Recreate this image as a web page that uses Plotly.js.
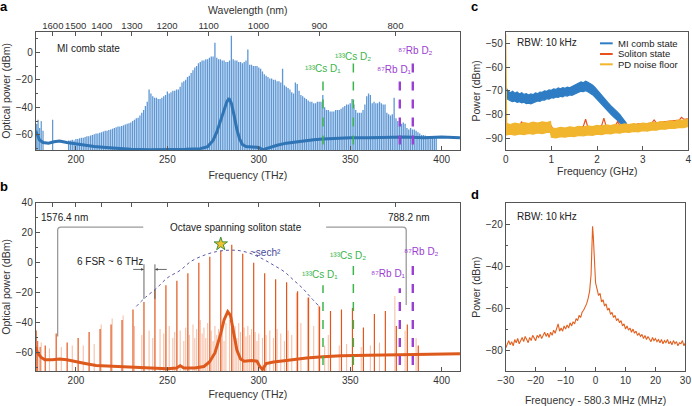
<!DOCTYPE html>
<html>
<head>
<meta charset="utf-8">
<script src="https://cdn.plot.ly/plotly-3.0.1.min.js"></script>
<style>
html,body{margin:0;padding:0;background:#fff;}
#chart{width:692px;height:406px;}
</style>
</head>
<body>
<div id="chart"></div>
<script>
// ---------------- DATA ----------------
const C_NM_THZ = 299792.458;               // nm*THz
const wavelengthTicks = [1600, 1500, 1400, 1300, 1200, 1100, 1000, 900, 800];

// Panel a: MI comb state (comb lines at 1 THz FSR starting 196 THz)
const aCombStart = 196, aCombFSR = 1;
const aCombPow = [
  -64, -64, -63.5, -64,
  -63, -63, -62.5, -62, -62, -61.5, -61, -61, -60.5, -60,
  -59.5, -59, -59, -58.5, -58, -57.5, -57, -57, -56.5, -56,
  -55.5, -55, -54.5, -54, -54, -53.5, -53, -52.5, -52, -51.5,
  -51, -50, -49, -48, -47.5, -46, -44, -42, -39, -36,
  -27, -30, -32, -33, -33, -34, -34, -33, -32, -31,
  -28.5, -30, -29, -28, -28, -27, -27, -25, -22, -21,
  -20, -18, -17, -15, -13, -11, -10, -8, -7, -6,
  -6, -5, -5, -4, -3, -3, 7, -4, -5, -5,
  -6, -6, -7, -7, -6, 12, -5, -6, -6, -7,
  -7, -8, -7, -6, 2, -9, -9, -10, -10, -10,
  -11, -12, -14, -16, -17, -18, -19, -19, -20, -20,
  -21, -21, -22, -12, -24, -25, -26, -27, -29, -30,
  -22, -23, -28, -31, -32, -33, -34, -35, -36, -36,
  -37, -37, -36, -36, -36, -31, -40, -42, -42, -43,
  -43, -43, -42, -42, -42, -41, -40, -39, -38, -38,
  -37, -34, -38, -42, -44, -44, -44, -42, -38, -32,
  -30, -31, -37, -36, -37, -37, -36, -37, -38, -38,
  -44, -45, -46, -45, -33, -48, -50, -52, -52, -51,
  -52, -55, -56, -55, -56, -56, -57, -58, -59, -60,
  -60, -60.5, -61, -61, -61.5, -61, -61.5, -62
];
const aSpikeF = [178.6, 179.3, 180.2, 181.0, 182.0, 187.3];
const aSpikeP = [-52, -49, -55, -50, -57, -49];
const aFloorF = [178, 179, 180, 182, 185, 188, 191, 195, 200, 205, 210, 220, 230, 240, 250, 260, 268, 272, 275, 277, 279, 281, 282.5, 283.7, 285, 286.5, 288, 289.5, 291, 293, 296, 299, 300.5, 302, 304, 307, 310, 315, 320, 325, 330, 335, 340, 350, 360, 370, 380, 390, 400, 410];
const aFloorP = [-57, -61, -63.5, -65.5, -66, -65, -64.5, -65.5, -66.5, -67.5, -68.5, -69.5, -70.5, -70.8, -70.8, -70.5, -70, -68.5, -64, -58, -50, -42, -36, -33.5, -37, -46, -56, -63, -67, -68.5, -68.5, -69, -69.5, -71, -70, -68.5, -67.5, -66, -65, -64, -63.5, -63, -62.5, -62, -62, -61.5, -61.5, -62, -61.5, -62];

// Panel b: soliton state
const bSolF = [183.2, 189.2, 195.2, 201.2, 207.2, 213.2, 219.2, 225.2, 231.2, 237.2, 243.2, 249.2, 255.2, 261.2, 267.2, 273.2, 279.2, 285.2, 291.2, 297.2, 303.2, 309.2, 315.2, 321.2, 327.2, 333.2, 339.2, 345.2, 351.2, 357.2, 363.2, 369.2, 375.2, 381.2, 387.2];
const bSolP = [-55, -47, -53, -50, -46, -44, -41, -38, -31, -26, -18, -15, -12, -7, 0, 4, 8, 12, 6, 0, -7, -11, -13, -19, -23, -29, -32, -31, -30, -43, -34, -32, -42, -41, -55];
const bLightF = [181, 185.5, 192, 198, 204, 210, 213.8, 219.8, 225.8, 232, 236, 240, 242, 246, 248, 251, 253, 254, 257, 259, 260, 262, 264, 265, 266, 268, 269, 270, 271, 272, 274, 275, 276, 277, 278, 280, 281, 282, 284, 286, 287, 288, 289, 290, 292, 293, 294, 295, 296, 298, 299, 300, 302, 304, 306, 308, 310, 312, 314, 316, 318, 320.6, 323, 326.6, 330, 332.6, 336, 338, 344, 348, 356, 361, 366, 374.4, 380, 386];
const bLightP = [-53, -57, -56, -55, -55, -54, -41, -37, -35, -42, -48, -45, -50, -44, -47, -42, -50, -46, -45, -52, -43, -48, -41, -50, -44, -38, -47, -43, -50, -40, -45, -52, -42, -48, -44, -46, -52, -40, -38, -45, -42, -50, -40, -46, -43, -49, -42, -48, -44, -46, -52, -47, -50, -48, -45, -50, -44, -47, -52, -45, -48, -20, -40, -23, -42, -28, -55, -48, -55, -54, -56, -55, -53, -22, -45, -50];
const bSpikeF = [178.3, 179.1, 180.4];
const bSpikeP = [-45, -52, -56];
const bFloorF = [178, 179, 181, 183, 187, 191, 195, 200, 205, 211, 220, 230, 240, 250, 255, 257, 259, 265, 270, 273, 276, 279, 281, 283, 284.5, 286, 288, 290, 292, 296, 299, 300.5, 302, 304, 308, 315, 326, 335, 345, 360, 381, 395, 410];
const bFloorP = [-56, -60, -63, -64.5, -64.5, -64, -64.5, -66, -67, -68.4, -69, -69.5, -70, -70.5, -70, -68.5, -70, -70, -69, -66, -60, -48, -38, -32.5, -35, -45, -58, -64, -65.5, -65, -65.5, -69, -71, -67, -66, -65, -63.3, -62.5, -61.8, -61.5, -61, -61, -60.5];
const bEnvF = [233, 238, 244, 250, 257, 263, 270, 277, 284, 290, 297, 303, 308, 314, 319, 324, 328, 333];
const bEnvP = [-29, -23, -17, -10, -5, 1, 5, 7.5, 8.4, 8, 5.5, 2, -1.5, -6, -11.5, -17, -22.5, -29];
const bStarF = [279.2], bStarP = [12.5];

// Atomic references
const atomLabels = ['¹³³Cs D₁', '¹³³Cs D₂', '⁸⁷Rb D₁', '⁸⁷Rb D₂'];
const atomF = [335.1, 351.7, 377.1, 384.2];
const atomTopA = [-18, -7, -18, -7];
const atomTopB = [-15, 0, -17, 2];
const atomLabelXA = [335, 351.5, 374, 385.5], atomLabelYA = [-12, -3, -12.5, 1.3];
const atomLabelXB = [333.5, 349, 371, 389], atomLabelYB = [-7.5, 5.1, -7.2, 7.3];
const atomColors = ['#3bb54a', '#3bb54a', '#9b40d2', '#9b40d2'];
const atomWidths = [1.5, 1.5, 2.4, 2.4];

// Panel c: RF spectra
const cNames = ['MI comb state', 'Soliton state', 'PD noise floor'];
const cColors = ['#2e7dc4', '#e8501c', '#f1b52e'];
const cMiF = [0,0.05,0.1,0.15,0.2,0.25,0.3,0.35,0.4,0.45,0.5,0.55,0.6,0.65,0.7,0.75,0.8,0.85,0.9,0.95,1,1.05,1.1,1.15,1.2,1.25,1.3,1.35,1.4,1.45,1.5,1.55,1.6,1.65,1.7,1.75,1.8,1.85,1.9,1.95,2,2.05,2.1,2.15,2.2,2.25,2.3,2.35,2.4,2.45,2.5,2.55,2.6,2.65];
const cMiTop = [-68.5,-70,-70.8,-70.2,-71,-70.5,-71.3,-70.8,-71.5,-71.2,-71.8,-71.3,-71.6,-70.9,-71.2,-70.5,-70.6,-70,-70.2,-69.6,-69.8,-69.2,-69.4,-68.8,-69.1,-68.6,-68.9,-68.4,-68.7,-68.2,-68,-67.4,-66.9,-66.2,-66.6,-65.9,-66.4,-66.8,-67.5,-68.4,-69.6,-70.8,-72,-73.2,-74.3,-75.2,-76.3,-77.1,-78.2,-79,-80.1,-81.2,-82.6,-83.8];
const cMiBot = [-73,-73.8,-74.2,-74.6,-74.3,-74.9,-74.6,-75.1,-74.8,-75.4,-75.2,-75.5,-75,-74.8,-74.3,-74.4,-73.8,-73.9,-73.3,-73.5,-72.9,-73.1,-72.6,-72.8,-72.3,-72.5,-72,-72.2,-71.7,-71.9,-71.3,-71,-70.6,-70.2,-70.3,-69.9,-70.4,-70.9,-71.6,-72.5,-73.6,-74.7,-75.8,-76.9,-77.9,-78.9,-79.8,-80.8,-81.6,-82.5,-83.4,-84.3,-85.2,-86];
const cSolF = [0,0.1,0.2,0.3,0.35,0.4,0.5,0.6,0.7,0.8,0.9,0.95,1.0,1.05,1.1,1.2,1.3,1.4,1.5,1.6,1.7,1.75,1.8,1.9,2.0,2.1,2.15,2.2,2.3,2.4,2.45,2.5,2.6,2.7,2.8,2.9,3.0,3.1,3.2,3.25,3.3,3.4,3.5,3.6,3.7,3.8,3.85,3.9,4.0];
const cSolP = [-86,-85.5,-86,-85,-83,-85.5,-85,-85.5,-84.5,-85,-83.5,-84.5,-84.8,-87,-87.5,-87,-86.5,-86.8,-86,-86.3,-85,-82,-85.5,-85.8,-85.5,-84.8,-81.5,-85,-85.2,-84.8,-83,-84.5,-84.7,-84.3,-84.6,-84,-84.2,-83.8,-83.6,-82.3,-83.5,-83.2,-83,-82.8,-82.5,-82.4,-81.2,-82,-81.8];
const cPdF = [0,0.02,0.1,0.2,0.3,0.4,0.5,0.6,0.7,0.8,0.9,0.98,1.0,1.1,1.2,1.3,1.4,1.5,1.6,1.7,1.8,1.9,2.0,2.1,2.2,2.3,2.4,2.5,2.6,2.7,2.8,2.9,3.0,3.1,3.2,3.3,3.4,3.5,3.6,3.7,3.8,3.9,4.0];
const cPdTop = [-46,-83.8,-84.2,-83.6,-84,-83.4,-83.8,-83.2,-83.6,-83.1,-83.4,-83,-85.6,-85.9,-85.4,-85.7,-85.2,-85.5,-85,-85.3,-84.8,-85.1,-84.6,-84.9,-84.4,-84.7,-84.2,-84.5,-84,-84.3,-83.8,-84.1,-83.6,-83.8,-83.3,-83.5,-83,-83.2,-82.7,-82.9,-82.3,-82.5,-81.8];
const cPdBot = [-88.5,-88.6,-88.3,-88.7,-88.2,-88.5,-88,-88.3,-87.8,-88.1,-87.6,-87.5,-89.6,-89.9,-89.4,-89.6,-89.1,-89.3,-88.8,-89,-88.6,-88.8,-88.3,-88.5,-88,-88.2,-87.7,-87.9,-87.4,-87.6,-87.1,-87.3,-86.8,-87,-86.5,-86.6,-86.1,-86.2,-85.8,-85.9,-85.4,-85.5,-85];

// Panel d: repetition-rate beat note
const dFreq = [-30,-29.5,-29,-28.5,-28,-27.5,-27,-26.5,-26,-25.5,-25,-24.5,-24,-23.5,-23,-22.5,-22,-21.5,-21,-20.5,-20,-19.5,-19,-18.5,-18,-17.5,-17,-16.5,-16,-15.5,-15,-14.5,-14,-13.5,-13,-12.5,-12,-11.5,-11,-10.5,-10,-9.5,-9,-8.5,-8,-7.5,-7,-6.5,-6,-5.5,-5,-4.5,-4,-3.5,-3,-2.5,-2,-1.5,-1.25,-1,-0.75,-0.5,0,0.5,1,1.5,2,2.5,3,3.5,4,4.5,5,5.5,6,6.5,7,7.5,8,8.5,9,9.5,10,10.5,11,11.5,12,12.5,13,13.5,14,14.5,15,15.5,16,16.5,17,17.5,18,18.5,19,19.5,20,20.5,21,21.5,22,22.5,23,23.5,24,24.5,25,25.5,26,26.5,27,27.5,28,28.5,29,29.5,30];
const dPow = [-79,-77,-75.5,-77.5,-76,-78,-75,-76.5,-74.5,-77,-75.5,-74,-76,-73.5,-75,-76.5,-74,-75.5,-73,-74.5,-75.5,-73,-74,-72.5,-74.5,-73,-71.5,-73.5,-72,-74,-71.5,-73,-70.5,-72,-70,-67.5,-71,-69.5,-71,-68.5,-70,-68,-69.5,-67,-68.5,-66.5,-67.5,-65,-66,-63.5,-64.5,-62,-61,-59.5,-58,-55.5,-52,-44,-30,-21,-26,-36,-48,-51,-54,-53,-57,-56,-59,-58,-61,-60,-63,-62,-64.5,-63.5,-66,-65,-67,-66,-68.5,-67.5,-70,-68.5,-70.5,-69.5,-71.5,-70,-72,-71,-73,-72,-73.5,-72.5,-74.5,-73,-75,-73.5,-74.5,-76,-74,-75.5,-74.5,-76,-75,-76.5,-75,-77,-75.5,-76.5,-75,-77,-76,-77.5,-75.5,-77,-76,-78,-76.5,-77,-75.5,-78,-76.5];

// ---------------- HELPERS ----------------
const FONT = 'Liberation Sans, Arial, Helvetica, sans-serif';
const TXT = '#333';
function stems(f, p, base) {
  const x = [], y = [];
  for (let i = 0; i < f.length; i++) { x.push(f[i], f[i], null); y.push(base, p[i], null); }
  return {x, y};
}
function axis(extra) {
  return Object.assign({
    showline: true, linecolor: '#555', linewidth: 1, mirror: true,
    ticks: 'inside', ticklen: 4, tickwidth: 1, tickcolor: '#555',
    showgrid: false, zeroline: false, automargin: false, tickangle: 0,
    ticklabeloverflow: 'allow',
    tickfont: {family: FONT, size: 10, color: TXT}
  }, extra);
}
function title(text, standoff) {
  return {text: text, standoff: standoff, font: {family: FONT, size: 10.5, color: TXT}};
}

const aCombF = aCombPow.map((_, i) => aCombStart + i * aCombFSR);
const wlFreq = wavelengthTicks.map(l => C_NM_THZ / l);
const BASE = -80;

const traces = [];
// ---- Panel a ----
let s = stems(aCombF, aCombPow, BASE);
traces.push({x: s.x, y: s.y, xaxis: 'x', yaxis: 'y', mode: 'lines', line: {color: 'rgba(75,140,208,0.9)', width: 1.3}, showlegend: false, hoverinfo: 'skip'});
s = stems(aSpikeF, aSpikeP, BASE);
traces.push({x: s.x, y: s.y, xaxis: 'x', yaxis: 'y', mode: 'lines', line: {color: '#3a80c4', width: 1}, showlegend: false, hoverinfo: 'skip'});
traces.push({x: aFloorF, y: aFloorP, xaxis: 'x', yaxis: 'y', mode: 'lines', line: {color: '#2f74b5', width: 3}, showlegend: false, hoverinfo: 'skip'});
atomF.forEach((f, i) => traces.push({x: [f, f], y: [BASE, atomTopA[i]], xaxis: 'x', yaxis: 'y', mode: 'lines', line: {color: atomColors[i], width: atomWidths[i], dash: 'dash'}, showlegend: false, hoverinfo: 'skip'}));
traces.push({x: [], y: [], xaxis: 'x2', yaxis: 'y', mode: 'lines', showlegend: false, hoverinfo: 'skip'});

// ---- Panel b ----
s = stems(bLightF, bLightP, BASE);
traces.push({x: s.x, y: s.y, xaxis: 'x3', yaxis: 'y3', mode: 'lines', line: {color: 'rgba(240,150,110,0.6)', width: 1.1}, showlegend: false, hoverinfo: 'skip'});
traces.push({x: bFloorF, y: bFloorP, xaxis: 'x3', yaxis: 'y3', mode: 'lines', line: {color: '#dd5a1c', width: 3}, showlegend: false, hoverinfo: 'skip'});
s = stems(bSolF, bSolP, BASE);
traces.push({x: s.x, y: s.y, xaxis: 'x3', yaxis: 'y3', mode: 'lines', line: {color: '#e2561b', width: 1.2}, showlegend: false, hoverinfo: 'skip'});
s = stems(bSpikeF, bSpikeP, BASE);
traces.push({x: s.x, y: s.y, xaxis: 'x3', yaxis: 'y3', mode: 'lines', line: {color: '#e2561b', width: 1}, showlegend: false, hoverinfo: 'skip'});
traces.push({x: bEnvF, y: bEnvP, xaxis: 'x3', yaxis: 'y3', mode: 'lines', line: {color: '#5a5aa8', width: 1, dash: 'dot', shape: 'spline'}, showlegend: false, hoverinfo: 'skip'});
atomF.forEach((f, i) => traces.push({x: [f, f], y: [BASE, atomTopB[i]], xaxis: 'x3', yaxis: 'y3', mode: 'lines', line: {color: atomColors[i], width: atomWidths[i], dash: 'dash'}, showlegend: false, hoverinfo: 'skip'}));
traces.push({x: bStarF, y: bStarP, xaxis: 'x3', yaxis: 'y3', mode: 'markers', marker: {symbol: 'star', size: 10, color: '#f2c12e', line: {color: '#3f8f3a', width: 1}}, showlegend: false, hoverinfo: 'skip'});
traces.push({x: [], y: [], xaxis: 'x4', yaxis: 'y3', mode: 'lines', showlegend: false, hoverinfo: 'skip'});

// ---- Panel c ----
traces.push({x: cMiF, y: cMiTop, xaxis: 'x5', yaxis: 'y5', mode: 'lines', name: cNames[0], line: {color: cColors[0], width: 1.2}, showlegend: false, hoverinfo: 'skip'});
traces.push({x: cMiF, y: cMiBot, xaxis: 'x5', yaxis: 'y5', mode: 'lines', name: cNames[0], fill: 'tonexty', fillcolor: cColors[0], line: {color: cColors[0], width: 1.2}, showlegend: false, hoverinfo: 'skip'});
traces.push({x: cSolF, y: cSolP, xaxis: 'x5', yaxis: 'y5', mode: 'lines', name: cNames[1], line: {color: cColors[1], width: 1.2}, showlegend: false, hoverinfo: 'skip'});
traces.push({x: cPdF, y: cPdTop, xaxis: 'x5', yaxis: 'y5', mode: 'lines', name: cNames[2], line: {color: cColors[2], width: 1.2}, showlegend: false, hoverinfo: 'skip'});
traces.push({x: cPdF, y: cPdBot, xaxis: 'x5', yaxis: 'y5', mode: 'lines', name: cNames[2], fill: 'tonexty', fillcolor: cColors[2], line: {color: cColors[2], width: 1.2}, showlegend: false, hoverinfo: 'skip'});

// ---- Panel d ----
traces.push({x: dFreq, y: dPow, xaxis: 'x6', yaxis: 'y6', mode: 'lines', line: {color: '#e2601f', width: 1.1}, showlegend: false, hoverinfo: 'skip'});

// ---------------- LAYOUT ----------------
const domXL = [0.0516, 0.6647], domXR = [0.7308, 0.9947], domXD = [0.7308, 0.9905];
const domYT = [0.6305, 0.922], domYB = [0.0862, 0.5007], domYD = [0.0862, 0.4993];
const minor10 = {dtick: 10, ticks: 'inside', ticklen: 2, tickcolor: '#555'};

const layout = {
  width: 692, height: 406,
  margin: {l: 0, r: 0, t: 0, b: 0},
  paper_bgcolor: '#fff', plot_bgcolor: 'rgba(0,0,0,0)',
  font: {family: FONT, size: 10, color: TXT},
  hovermode: false,
  showlegend: false,
  xaxis: axis({domain: domXL, anchor: 'y', range: [178, 410], tick0: 0, dtick: 50, title: title('Frequency (THz)', 7)}),
  yaxis: axis({domain: domYT, anchor: 'x', range: [-71, 15], tick0: 0, dtick: 20, minor: minor10, title: title('Optical power (dBm)', 3)}),
  xaxis2: axis({overlaying: 'x', anchor: 'y', side: 'top', range: [178, 410], tickmode: 'array', tickvals: wlFreq, ticktext: wavelengthTicks.map(String), showline: false, tickfont: {family: FONT, size: 9.5, color: TXT}, title: title('Wavelength (nm)', 3)}),
  xaxis3: axis({domain: domXL, anchor: 'y3', range: [178, 410], tick0: 0, dtick: 50, title: title('Frequency (THz)', 5)}),
  yaxis3: axis({domain: domYB, anchor: 'x3', range: [-72, 40], tick0: 0, dtick: 20, minor: minor10, title: title('Optical power (dBm)', 3)}),
  xaxis4: axis({overlaying: 'x3', anchor: 'y3', side: 'top', range: [178, 410], tickmode: 'array', tickvals: wlFreq, showticklabels: false, showline: false}),
  xaxis5: axis({domain: domXR, anchor: 'y5', range: [0, 4], tick0: 0, dtick: 1}),
  yaxis5: axis({domain: domYT, anchor: 'x5', range: [-95, -45], tick0: 0, dtick: 10, title: title('Power (dBm)', 3)}),
  xaxis6: axis({domain: domXD, anchor: 'y6', range: [-30, 30], tick0: 0, dtick: 10, title: title('Frequency - 580.3 MHz (MHz)', 12)}),
  yaxis6: axis({domain: domYD, anchor: 'x6', range: [-90, -10], tick0: 0, dtick: 20, minor: minor10, title: title('Power (dBm)', 3)}),
  shapes: [],
  annotations: []
};

// panel c x-axis title (placed explicitly below its tick labels)
layout.annotations.push({text: 'Frequency (GHz)', xref: 'paper', yref: 'paper', x: (domXR[0] + domXR[1]) / 2, y: 0.579, xanchor: 'center', yanchor: 'middle', showarrow: false, font: {family: FONT, size: 10.5, color: TXT}});

// panel letters
[['a', 0.006, 0.985], ['b', 0.006, 0.54], ['c', 0.686, 0.983], ['d', 0.686, 0.522]].forEach(p => {
  layout.annotations.push({text: '<b>' + p[0] + '</b>', xref: 'paper', yref: 'paper', x: p[1], y: p[2], xanchor: 'center', yanchor: 'middle', showarrow: false, font: {family: FONT, size: 13, color: '#000'}});
});
// panel a texts
layout.annotations.push({text: 'MI comb state', xref: 'x', yref: 'y', x: 188.5, y: 2.7, xanchor: 'left', yanchor: 'middle', showarrow: false, font: {family: FONT, size: 10, color: '#222'}});
atomLabels.forEach((t, i) => {
  layout.annotations.push({text: t, xref: 'x', yref: 'y', x: atomLabelXA[i], y: atomLabelYA[i], xanchor: 'center', yanchor: 'middle', showarrow: false, font: {family: FONT, size: 10, color: atomColors[i]}});
  layout.annotations.push({text: t, xref: 'x3', yref: 'y3', x: atomLabelXB[i], y: atomLabelYB[i], xanchor: 'center', yanchor: 'middle', showarrow: false, font: {family: FONT, size: 10, color: atomColors[i]}});
});
// panel b texts
const bTexts = [
  ['1576.4 nm', 194, 30, '#222'], ['788.2 nm', 382, 30, '#222'],
  ['Octave spanning soliton state', 287.4, 23.8, '#222'],
  ['~sech²', 303.5, 6.6, '#4a4a9a'],
  ['6 FSR ~ 6 THz', 218.6, 0.7, '#222']
];
bTexts.forEach(t => layout.annotations.push({text: t[0], xref: 'x3', yref: 'y3', x: t[1], y: t[2], xanchor: 'center', yanchor: 'middle', showarrow: false, font: {family: FONT, size: 10, color: t[3]}}));
// FSR arrows
const fsrLines = [237.2, 243.2], fsrArrowFrom = [230.5, 250.5], fsrArrowY = -4.4;
fsrLines.forEach((f, i) => {
  layout.annotations.push({text: ' ', xref: 'x3', yref: 'y3', axref: 'x3', ayref: 'y3', x: f, y: fsrArrowY, ax: fsrArrowFrom[i], ay: fsrArrowY, showarrow: true, arrowhead: 2, arrowsize: 0.7, arrowwidth: 0.8, arrowcolor: '#444', font: {size: 1}});
  layout.shapes.push({type: 'line', xref: 'x3', yref: 'y3', x0: f, x1: f, y0: -24, y1: -1, line: {color: '#555', width: 0.9}});
});
// octave bracket
const brL = 190, brR = 380.6, brY = 23.8, brGapL = 236.8, brGapR = 336.8, brBotL = -49, brBotR = -28;
layout.shapes.push({type: 'path', xref: 'x3', yref: 'y3', path: `M ${brL},${brBotL} L ${brL},${brY - 2.2} Q ${brL},${brY} ${brL + 1.8},${brY} L ${brGapL},${brY}`, line: {color: '#9a9a9a', width: 1.3}});
layout.shapes.push({type: 'path', xref: 'x3', yref: 'y3', path: `M ${brGapR},${brY} L ${brR - 1.8},${brY} Q ${brR},${brY} ${brR},${brY - 2.2} L ${brR},${brBotR}`, line: {color: '#9a9a9a', width: 1.3}});
// panel c legend (compact, as in the reference)
const legX0 = 0.867, legX1 = 0.8854, legTextX = 0.8897, legY = [0.8933, 0.867, 0.8416];
cNames.forEach((n, i) => {
  layout.shapes.push({type: 'line', xref: 'paper', yref: 'paper', x0: legX0, x1: legX1, y0: legY[i], y1: legY[i], line: {color: cColors[i], width: 2}});
  layout.annotations.push({text: n, xref: 'paper', yref: 'paper', x: legTextX, y: legY[i], xanchor: 'left', yanchor: 'middle', showarrow: false, font: {family: FONT, size: 9.5, color: '#222'}});
});
// panel c, d texts
layout.annotations.push({text: 'RBW: 10 kHz', xref: 'x5', yref: 'y5', x: 0.2, y: -49.7, xanchor: 'left', yanchor: 'middle', showarrow: false, font: {family: FONT, size: 10, color: '#222'}});
layout.annotations.push({text: 'RBW: 10 kHz', xref: 'x6', yref: 'y6', x: -26.9, y: -16.5, xanchor: 'left', yanchor: 'middle', showarrow: false, font: {family: FONT, size: 10, color: '#222'}});

Plotly.newPlot('chart', traces, layout, {staticPlot: true, displayModeBar: false});
</script>
</body>
</html>
